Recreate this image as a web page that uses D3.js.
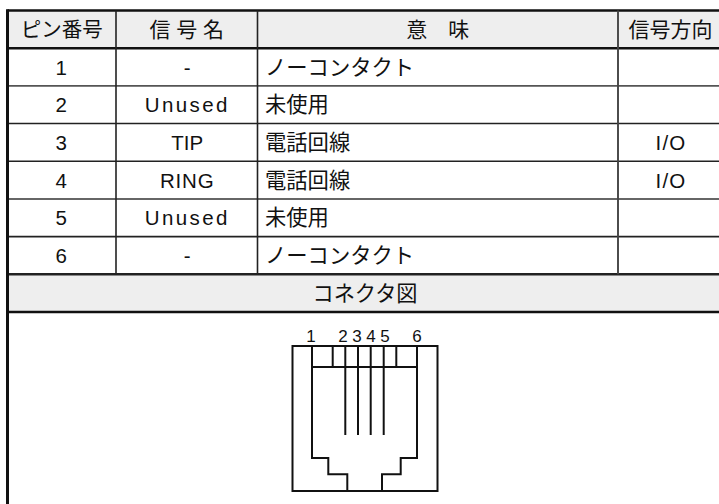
<!DOCTYPE html>
<html>
<head>
<meta charset="utf-8">
<script src="https://cdn.jsdelivr.net/npm/d3@7"></script>
<style>
html, body { margin:0; padding:0; background:#fff; }
svg { display:block; }
text { fill:#111; font-family:"Liberation Sans","Noto Sans CJK JP",sans-serif; }
</style>
</head>
<body>
<div id="table"></div>
<script>
const columns = ['pin', 'name', 'meaning', 'direction'];
const headers = ['ピン番号', '信 号 名', '意　味', '信号方向'];
const pins = ['1', '2', '3', '4', '5', '6'];
const names = ['-', 'Unused', 'TIP', 'RING', 'Unused', '-'];
const meanings = ['ノーコンタクト', '未使用', '電話回線', '電話回線', '未使用', 'ノーコンタクト'];
const directions = ['', '', 'I/O', 'I/O', '', ''];
const sectionTitle = 'コネクタ図';

// connector drawing, in units of its own 145 x 145 box
const plugOutline = [[19.5,0],[19.5,112],[35.8,112],[35.8,128.3],[54.8,128.3],[54.8,145],
    [89.5,145],[89.5,128.3],[108.2,128.3],[108.2,112],[124.5,112],[124.5,0]];
const shelf = [[19.5,21],[124.5,21]];
const dividers = [40.2, 103.8];
const wires = [52.8, 65.5, 78.2, 91.2];
const wireLength = 89;
const pinLabelAt = [18.5, 50.5, 64.5, 78.5, 92.5, 124.5];

const width = 719, height = 504;

let svg = d3.select('#table').append('svg')
    .attr('width', width)
    .attr('height', height);

let colEdge = d3.scaleOrdinal()
    .domain(columns.concat('end'))
    .range([7.5, 116, 257.5, 618, 719]);

let colNext = function(c){ return colEdge(columns.concat('end')[columns.indexOf(c) + 1]); };
let colMid = function(c){ return (colEdge(c) + colNext(c)) / 2; };

let rowIds = ['head'].concat(pins, 'section');
let yRow = d3.scaleBand()
    .domain(rowIds)
    .range([10.5, 312]);

let cx = d3.scaleLinear().domain([0, 145]).range([292.5, 437.5]);
let cy = d3.scaleLinear().domain([0, 145]).range([346, 491]);

// shaded rows
svg.selectAll('.shade')
    .data(['head', 'section'])
    .enter()
    .append('rect')
    .attr('x', colEdge('pin'))
    .attr('y', function(d){ return yRow(d); })
    .attr('width', width - colEdge('pin'))
    .attr('height', yRow.bandwidth())
    .attr('fill', '#eeeeee');

// row lines
let rowLines = [
    {y: yRow('head'), w: 2.6, c: '#111'},
    {y: yRow('1'), w: 2.6, c: '#111'},
    {y: yRow('2'), w: 1.9, c: '#555'},
    {y: yRow('3'), w: 1.6, c: '#222'},
    {y: yRow('4'), w: 1.6, c: '#222'},
    {y: yRow('5'), w: 1.6, c: '#333'},
    {y: yRow('6'), w: 1.6, c: '#222'},
    {y: yRow('section'), w: 2.6, c: '#222'},
    {y: yRow('section') + yRow.bandwidth(), w: 2.6, c: '#111'}
];
svg.selectAll('.rowLine')
    .data(rowLines)
    .enter()
    .append('line')
    .attr('x1', colEdge('pin'))
    .attr('x2', width)
    .attr('y1', function(d){ return d.y; })
    .attr('y2', function(d){ return d.y; })
    .attr('stroke', function(d){ return d.c; })
    .attr('stroke-width', function(d){ return d.w; });

// column lines
svg.selectAll('.colLine')
    .data(['name', 'meaning', 'direction'])
    .enter()
    .append('line')
    .attr('x1', function(d){ return colEdge(d); })
    .attr('x2', function(d){ return colEdge(d); })
    .attr('y1', yRow('head'))
    .attr('y2', yRow('section'))
    .attr('stroke', function(d){ return d == 'direction' ? '#444' : '#222'; })
    .attr('stroke-width', function(d){ return d == 'direction' ? 1.9 : 1.6; });

svg.append('line')
    .attr('x1', colEdge('pin'))
    .attr('x2', colEdge('pin'))
    .attr('y1', yRow('head') - 1.3)
    .attr('y2', height)
    .attr('stroke', '#111')
    .attr('stroke-width', 3);

let baseline = function(id){ return yRow(id) + yRow.bandwidth() / 2 + 7.5; };

// header
svg.selectAll('.head')
    .data(columns)
    .enter()
    .append('text')
    .attr('x', function(d){ return colMid(d) + (d == 'direction' ? 2 : 0); })
    .attr('y', baseline('head'))
    .attr('text-anchor', 'middle')
    .attr('font-size', function(d){ return d == 'pin' ? 20.5 : 21; })
    .text(function(d, i){ return headers[i]; });

// body
let body = svg.selectAll('.row')
    .data(pins)
    .enter()
    .append('g');

body.append('text')
    .attr('x', colMid('pin') - 0.5)
    .attr('y', function(d){ return baseline(d); })
    .attr('text-anchor', 'middle')
    .attr('font-size', 20.5)
    .text(function(d){ return d; });

body.append('text')
    .attr('x', colMid('name') + 0.5)
    .attr('y', function(d){ return baseline(d); })
    .attr('text-anchor', 'middle')
    .attr('font-size', 20.5)
    .attr('letter-spacing', function(d, i){
        if (names[i] == 'Unused') return 2.4;
        return names[i] == 'RING' ? 0.8 : 0;
    })
    .text(function(d, i){ return names[i]; });

body.append('text')
    .attr('x', colEdge('meaning') + 7.5)
    .attr('y', function(d){ return baseline(d); })
    .attr('font-size', 21.3)
    .text(function(d, i){ return meanings[i]; });

body.append('text')
    .attr('x', colMid('direction') + 2.5)
    .attr('y', function(d){ return baseline(d); })
    .attr('text-anchor', 'middle')
    .attr('font-size', 20.5)
    .attr('letter-spacing', 1.2)
    .text(function(d, i){ return directions[i]; });

svg.append('text')
    .attr('x', 365)
    .attr('y', baseline('section'))
    .attr('text-anchor', 'middle')
    .attr('font-size', 21.2)
    .text(sectionTitle);

// connector
let conn = svg.append('g')
    .attr('fill', 'none')
    .attr('stroke', '#111')
    .attr('stroke-width', 2);

let connLine = d3.line()
    .x(function(d){ return cx(d[0]); })
    .y(function(d){ return cy(d[1]); });

conn.append('rect')
    .attr('x', cx(0))
    .attr('y', cy(0))
    .attr('width', cx(145) - cx(0))
    .attr('height', cy(145) - cy(0));

conn.append('path').attr('d', connLine(plugOutline));
conn.append('path').attr('d', connLine(shelf));

conn.selectAll('.divider')
    .data(dividers)
    .enter()
    .append('line')
    .attr('x1', function(d){ return cx(d); })
    .attr('x2', function(d){ return cx(d); })
    .attr('y1', cy(0))
    .attr('y2', cy(shelf[0][1]));

conn.selectAll('.wire')
    .data(wires)
    .enter()
    .append('line')
    .attr('x1', function(d){ return cx(d); })
    .attr('x2', function(d){ return cx(d); })
    .attr('y1', cy(0))
    .attr('y2', cy(wireLength));

svg.selectAll('.pinLabel')
    .data(pins)
    .enter()
    .append('text')
    .attr('x', function(d, i){ return cx(pinLabelAt[i]); })
    .attr('y', 341.7)
    .attr('text-anchor', 'middle')
    .attr('font-size', 17)
    .text(function(d){ return d; });
</script>
</body>
</html>
